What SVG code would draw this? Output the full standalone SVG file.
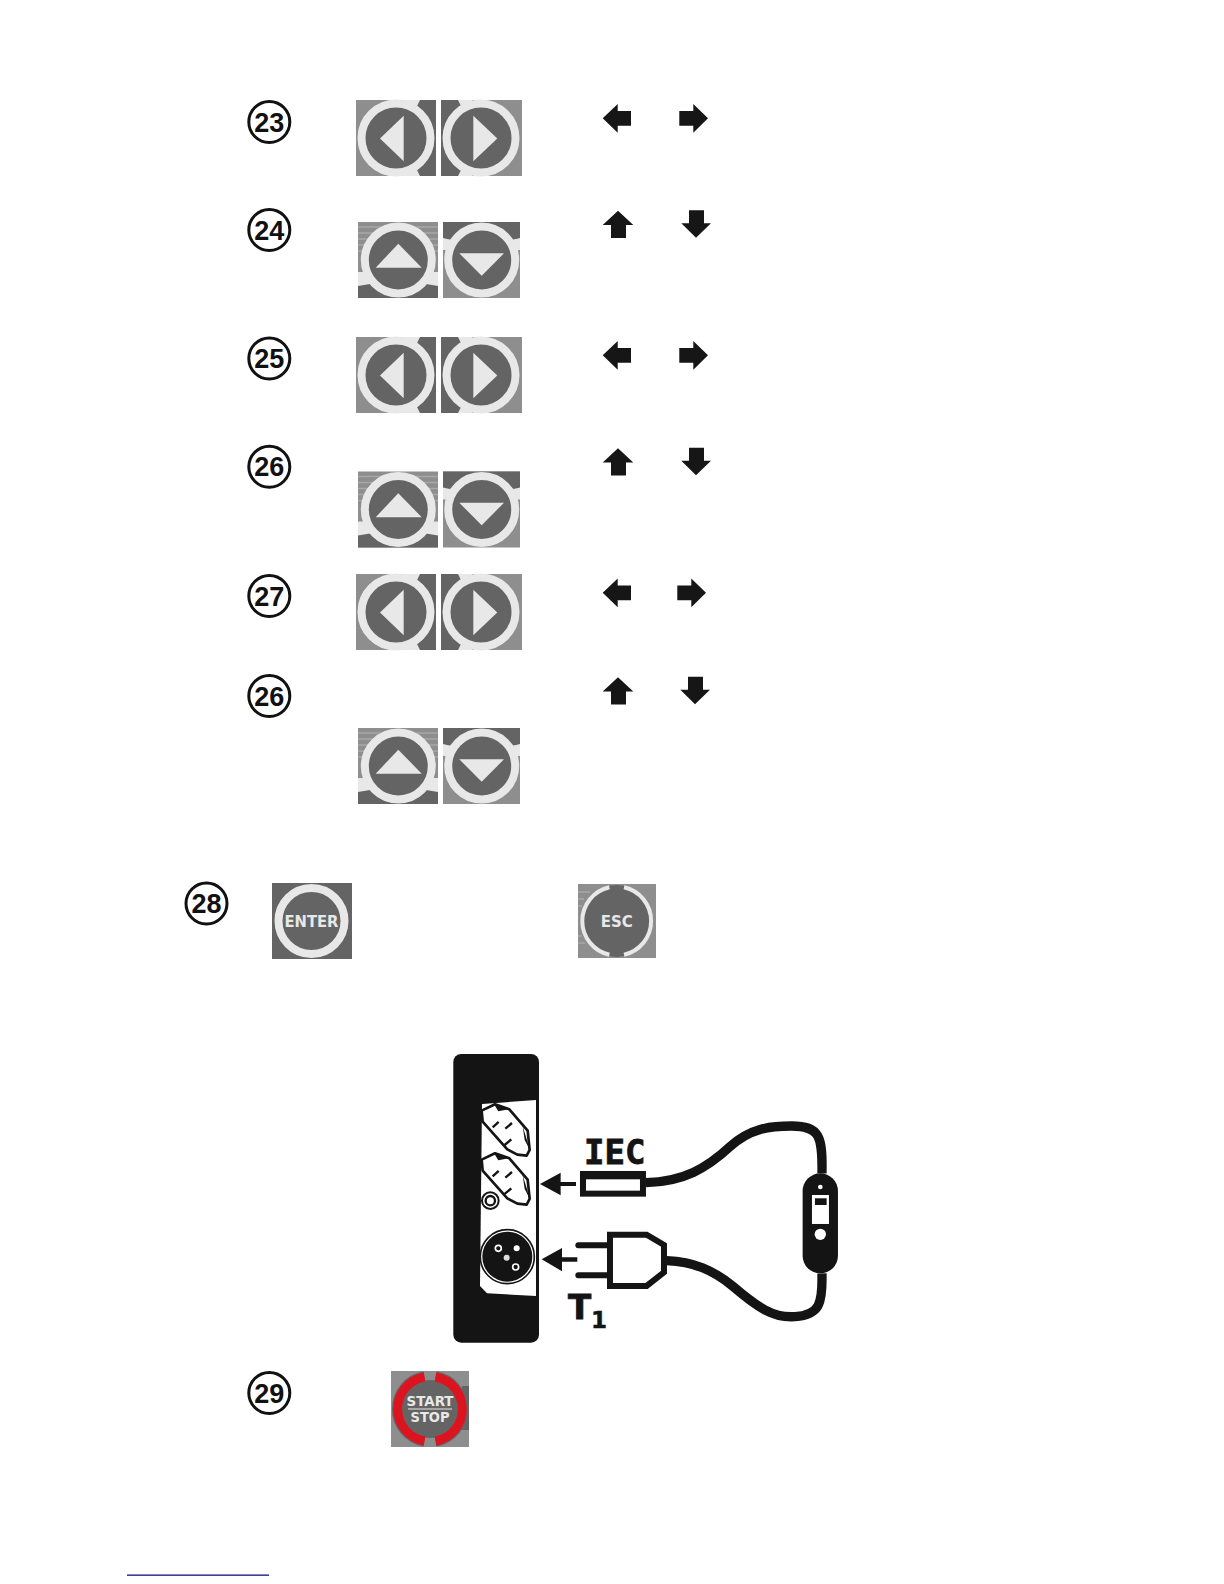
<svg xmlns="http://www.w3.org/2000/svg" width="1224" height="1584" viewBox="0 0 1224 1584">
<style>
.lt{fill:#8e8e8e}.dk{fill:#646464}.rg{fill:#e8e8e8}
.ring{fill:#646464;stroke:#e8e8e8;stroke-width:8}
.num{font:bold 27px "Liberation Sans",Arial,sans-serif;fill:#111;text-anchor:middle}
.nc{fill:#fff;stroke:#111;stroke-width:3}
.bl{font-family:"DejaVu Sans",sans-serif;font-weight:bold;fill:#e8e8e8;text-anchor:middle}
.ar{fill:#161616}
.k{fill:#141414}.sk{fill:#fff;stroke:#141414;stroke-width:8;stroke-linejoin:round}
.cable{fill:none;stroke:#141414;stroke-width:28}
</style>
<defs>
<g id="lr">
<rect class="lt" x="356" y="100" width="80" height="76"/>
<rect class="dk" x="416" y="100" width="20" height="76"/>
<path class="rg" d="M403 100H420L414 112H403ZM403 176H420L414 164H403Z"/>
<circle class="ring" cx="396" cy="138" r="34.500"/>
<path class="rg" d="M380 138.500L403.700 115.700V161.300Z"/>
<rect class="lt" x="441" y="100" width="81" height="76"/>
<rect class="dk" x="441" y="100" width="20" height="76"/>
<path class="rg" d="M458 100H472V112H464ZM458 176H472V164H464Z"/>
<circle class="ring" cx="481" cy="138" r="34.500"/>
<path class="rg" d="M497.300 138.500L473.300 115.700V161.300Z"/>
</g>
<g id="ud">
<rect class="lt" x="358" y="222" width="80" height="76"/>
<path d="M358 227H438M358 233H438M358 239H438M358 245H438M358 251H438" stroke="#a8a8a8" stroke-width="1.500"/>
<rect class="dk" x="358" y="280" width="80" height="18"/>
<path class="rg" d="M358 272H376V284H370L358 286ZM438 272H420V284H426L438 286Z"/>
<circle class="ring" cx="398.300" cy="260" r="33.500"/>
<path class="rg" d="M398.300 243.700L375.700 267.700H421.700Z"/>
<rect class="lt" x="443" y="222" width="77" height="76"/>
<rect class="dk" x="443" y="222" width="77" height="17"/>
<path class="rg" d="M443 238L455 241V250H443ZM520 238L508 241V250H520Z"/>
<circle class="ring" cx="481.700" cy="260" r="33.500"/>
<path class="rg" d="M459.300 253.300H504L481.700 275.700Z"/>
</g>
<path id="al" class="ar" d="M602.700 118.300L617.700 104V111H631V125.700H617.700V132.700Z"/>
<path id="arr" class="ar" d="M708 118.300L693.300 104V111H679.300V125.700H693.300V132.700Z"/>
<path id="au" class="ar" d="M618 210.700L633.300 225H626V238H611V225H602.700Z"/>
<path id="ad" class="ar" d="M696 237.700L711 223.300H704V210.300H689V223.300H681.300Z"/>
<g id="socket">
<path class="sk" d="M155 212L195 193L238 208L293 272L299 330L290 347L262 344L232 328L158 245Z"/>
<path class="k" d="M192 193L240 207L205 214ZM278 258L300 330L284 300Z"/>
<path d="M188 262L206 246M226 266L246 249M224 315L244 298" stroke="#141414" stroke-width="7" fill="none"/>
</g>
</defs>
<rect width="1224" height="1584" fill="#fff"/>

<g id="marker-23"><circle class="nc" cx="269.300" cy="122" r="20.500"/><text class="num" x="269.300" y="131.500">23</text></g>
<g id="marker-24"><circle class="nc" cx="269.300" cy="230" r="20.500"/><text class="num" x="269.300" y="239.500">24</text></g>
<g id="marker-25"><circle class="nc" cx="269.300" cy="358.500" r="20.500"/><text class="num" x="269.300" y="368">25</text></g>
<g id="marker-26a"><circle class="nc" cx="269.300" cy="466.700" r="20.500"/><text class="num" x="269.300" y="476.200">26</text></g>
<g id="marker-27"><circle class="nc" cx="269.300" cy="596" r="20.500"/><text class="num" x="269.300" y="605.500">27</text></g>
<g id="marker-26b"><circle class="nc" cx="269.300" cy="696" r="20.500"/><text class="num" x="269.300" y="705.500">26</text></g>
<g id="marker-28"><circle class="nc" cx="206.500" cy="903.500" r="20.500"/><text class="num" x="206.500" y="913">28</text></g>
<g id="marker-29"><circle class="nc" cx="269.300" cy="1393" r="20.500"/><text class="num" x="269.300" y="1402.500">29</text></g>

<g id="buttons-23"><use href="#lr"/></g>
<g id="buttons-24"><use href="#ud"/></g>
<g id="buttons-25"><use href="#lr" y="237"/></g>
<g id="buttons-26a"><use href="#ud" y="249.500"/></g>
<g id="buttons-27"><use href="#lr" y="474"/></g>
<g id="buttons-26b"><use href="#ud" y="506"/></g>

<g id="arrows-23"><use href="#al"/><use href="#arr"/></g>
<g id="arrows-24"><use href="#au"/><use href="#ad"/></g>
<g id="arrows-25"><use href="#al" y="237"/><use href="#arr" y="237"/></g>
<g id="arrows-26a"><use href="#au" y="237.500"/><use href="#ad" y="237.500"/></g>
<g id="arrows-27"><use href="#al" y="474.500"/><use href="#arr" x="-2" y="474.500"/></g>
<g id="arrows-26b"><use href="#au" y="466.500"/><use href="#ad" x="-1" y="466.500"/></g>

<g id="button-enter">
<rect class="dk" x="272" y="883" width="80" height="76"/>
<circle class="ring" cx="311.500" cy="921" r="33"/>
<text class="bl" x="311.500" y="926.500" font-size="15" textLength="54" lengthAdjust="spacingAndGlyphs">ENTER</text>
</g>
<g id="button-esc">
<rect class="lt" x="578" y="884" width="78" height="74"/>
<path d="M578 892H590M578 899H584M578 906H582M578 936H582M578 943H585" stroke="#a8a8a8" stroke-width="1.500"/>
<circle class="dk" cx="616.700" cy="921" r="36"/>
<path d="M624 887.300A34.500 34.500 0 0 1 624 954.700M609.400 887.300A34.500 34.500 0 0 0 609.400 954.700" fill="none" stroke="#e8e8e8" stroke-width="4"/>
<text class="bl" x="616.700" y="926.800" font-size="16" textLength="32" lengthAdjust="spacingAndGlyphs">ESC</text>
</g>
<g id="button-start">
<rect class="lt" x="391" y="1371" width="78" height="76"/>
<rect class="dk" x="462" y="1386" width="7" height="44"/>
<circle class="dk" cx="430" cy="1409" r="29"/>
<path d="M435.500 1377A32.500 32.500 0 0 1 435.500 1441M424.500 1377A32.500 32.500 0 0 0 424.500 1441" fill="none" stroke="#666" stroke-width="11.500"/>
<path d="M435.500 1377A32.500 32.500 0 0 1 435.500 1441M424.500 1377A32.500 32.500 0 0 0 424.500 1441" fill="none" stroke="#dc1420" stroke-width="9"/>
<text class="bl" x="430" y="1406" font-size="14.500" textLength="47" lengthAdjust="spacingAndGlyphs">START</text>
<rect x="408" y="1408.500" width="44" height="1" fill="#e8e8e8"/>
<text class="bl" x="430" y="1422" font-size="14.500" textLength="39" lengthAdjust="spacingAndGlyphs">STOP</text>
</g>

<g id="panel">
<rect class="k" x="453.300" y="1054" width="85.700" height="288.700" rx="8"/>
<path fill="#fff" d="M482 1104L536 1100V1296L487 1293.300L480 1286Z"/>
<g transform="translate(430 1040) scale(.3333)">
<use href="#socket"/>
<use href="#socket" y="147"/>
<circle cx="181" cy="482" r="25" fill="#fff" stroke="#141414" stroke-width="6"/>
<circle cx="181" cy="482" r="14" fill="#fff" stroke="#141414" stroke-width="7"/>
<circle cx="232" cy="650" r="81" fill="#fff" stroke="#141414" stroke-width="5"/>
<circle cx="232" cy="650" r="75" fill="#141414"/>
<circle cx="205" cy="625" r="9" fill="#141414" stroke="#fff" stroke-width="5"/>
<circle cx="260" cy="625" r="9" fill="#fff"/>
<circle cx="257" cy="681" r="9" fill="#141414" stroke="#fff" stroke-width="5"/>
<circle cx="230" cy="653" r="9" fill="#ddd"/>
</g>
</g>
<g id="connectors">
<g transform="translate(430 1040) scale(.3333)">
<path class="cable" d="M648 428C760 425 830 385 900 320C960 265 1020 258 1085 258C1170 258 1178 290 1176 400"/>
<path class="cable" d="M710 662C790 665 850 690 910 740C980 800 1030 835 1095 830C1170 825 1178 790 1176 700"/>
<path class="k" d="M330 432L392 398V426H438V438H392V466Z"/>
<path class="k" d="M335 658L396 624V652H442V665H396V694Z"/>
</g>
</g>
<g id="iec-plug">
<g transform="translate(430 1040) scale(.3333)">
<rect class="k" x="450" y="393" width="198" height="77"/>
<rect x="468" y="418" width="162" height="34" fill="#fff"/>
</g>
<text x="584" y="1163.500" font-family="'DejaVu Sans Mono',monospace" font-weight="bold" font-size="34" fill="#141414" stroke="#141414" stroke-width=".8">IEC</text>
</g>
<g id="t1-plug">
<g transform="translate(430 1040) scale(.3333)">
<path d="M445 616H545M445 706H545" stroke="#141414" stroke-width="18" stroke-linecap="round"/>
<path d="M540 584H650L702 615V697L650 738H540Z" fill="#fff" stroke="#141414" stroke-width="18"/>
</g>
<text x="568" y="1319" font-family="'DejaVu Sans',sans-serif" font-weight="bold" font-size="34" fill="#141414" stroke="#141414" stroke-width=".8">T</text>
<text x="591" y="1328" font-family="'DejaVu Sans',sans-serif" font-weight="bold" font-size="23" fill="#141414" stroke="#141414" stroke-width=".5">1</text>
</g>
<g id="switch">
<g transform="translate(430 1040) scale(.3333)">
<rect class="k" x="1118" y="400" width="106" height="300" rx="53"/>
<circle cx="1171" cy="441" r="7" fill="#fff"/>
<rect x="1146" y="465" width="51" height="87" fill="#fff"/>
<rect class="k" x="1155" y="475" width="35" height="20"/>
<circle cx="1171" cy="583" r="17" fill="#fff"/>
</g>
</g>
<rect id="underline" x="127" y="1574.500" width="142" height="1.300" fill="#11118a"/>
</svg>
